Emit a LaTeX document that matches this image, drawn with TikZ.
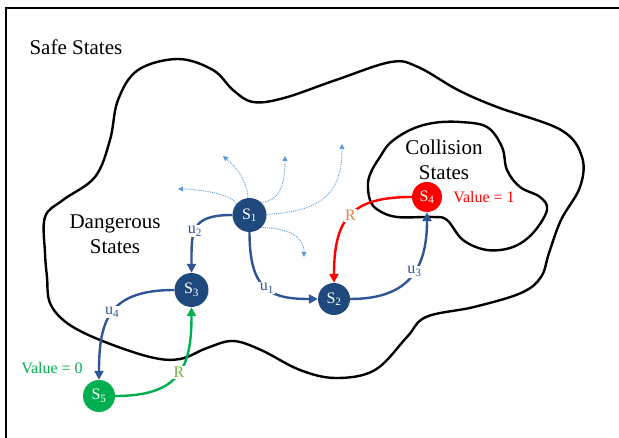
\documentclass[tikz,border=0pt]{standalone}
\usepackage{fontspec}
\setmainfont{Liberation Serif}
\usetikzlibrary{arrows.meta}
\definecolor{navy}{RGB}{31,73,125}
\definecolor{eblue}{RGB}{47,85,151}
\definecolor{lblue}{RGB}{91,155,213}
\definecolor{cred}{RGB}{255,0,0}
\definecolor{cgreen}{RGB}{0,176,80}
\definecolor{rorange}{RGB}{226,132,70}
\definecolor{rgreen}{RGB}{112,173,71}
\begin{document}
\begin{tikzpicture}[x=1pt,y=1pt,
  state/.style={circle,inner sep=0pt,text=white,font=\fontsize{16}{19}\selectfont},
  blob/.style={line width=2.4pt,black},
  edge/.style={line width=2.4pt,-{Triangle[width=9pt,length=9pt]}},
  elabel/.style={fill=white,inner sep=1pt,font=\fontsize{16}{19}\selectfont},
  hint/.style={lblue,line width=0.9pt,densely dotted,-{Triangle[width=5pt,length=5pt]}},
  bigtext/.style={font=\fontsize{21}{25}\selectfont,align=center}]
\useasboundingbox (0,0) rectangle (619,437);
\fill[white] (0,0) rectangle (619,437);
\draw[line width=2pt] (6,-5) -- (6,428.5) -- (625,428.5);

% outer blob (dangerous states)
\draw[blob] plot[smooth cycle,tension=0.6] coordinates {
 (45,220) (63,237) (95,260) (110,297) (118,337) (138,367) (178,378) (213,367)
 (233,347) (253,335) (284,339) (336,357) (391,375) (418,370) (458,347) (497,330)
 (561,307) (582,280) (580,250) (561,217) (549,184) (541,160) (521,144) (474,130)
 (426,120) (407,100) (375,67) (336,59) (300,67) (261,87) (233,96) (207,89)
 (180,78) (150,80) (100,97) (67,114) (50,134) (47,160) (45,184)};

% collision blob
\draw[blob] plot[smooth cycle,tension=0.6] coordinates {
 (368,254) (370,237) (378,227) (397,220) (433,220) (447,217) (463,197) (487,187)
 (513,190) (533,204) (547,227) (540,240) (520,250) (507,267) (502,290) (487,310)
 (460,315) (433,314) (410,307) (390,294) (380,280) (372,267)};

\node[anchor=west,font=\fontsize{21}{25}\selectfont] (safe) at (26,390) {Safe States};
\node[bigtext] (dang) at (115,202.5) {Dangerous\\States};
\node[bigtext] (coll) at (444,277.5) {Collision\\States};

\node[state,fill=navy,minimum size=34pt] (S1) at (249.5,222) {S\textsubscript{1}};
\node[state,fill=navy,minimum size=32pt] (S2) at (334,138) {S\textsubscript{2}};
\node[state,fill=navy,minimum size=34pt] (S3) at (191.5,147) {S\textsubscript{3}};
\node[state,fill=cred,minimum size=30pt] (S4) at (427,240) {S\textsubscript{4}};
\node[state,fill=cgreen,minimum size=32pt] (S5) at (99,41) {S\textsubscript{5}};

\node[text=cred,font=\fontsize{16}{19}\selectfont] (v1) at (484,240) {Value = 1};
\node[text=cgreen,font=\fontsize{16}{19}\selectfont] (v0) at (52,69) {Value = 0};

% dotted possible transitions
\coordinate (d1) at (178,248);
\coordinate (d2) at (223,281);
\coordinate (d3) at (285,281);
\coordinate (d4) at (342,293);
\coordinate (d5) at (304,180);
\draw[hint] (S1.140) .. controls +(-4,10) and +(20,0) .. (d1);
\draw[hint] (S1.95) .. controls +(-1,18) and +(12,-10) .. (d2);
\draw[hint] (S1.48) .. controls +(18,1) and +(0,-30) .. (d3);
\draw[hint] (S1.2) .. controls +(60,3) and +(0,-45) .. (d4);
\draw[hint] (S1.-46) .. controls +(28,-1) and +(0,20) .. (d5);

% transitions
\draw[edge,eblue] (S1.west) .. controls +(-42,0) and +(0,42) .. (S3.north)
  node[elabel,text=eblue,pos=0.55] (u2) {u\textsubscript{2}};
\draw[edge,eblue] (S1.south) .. controls +(0,-58) and +(-48,0) .. (S2.west)
  node[elabel,text=eblue,pos=0.52] (u1) {u\textsubscript{1}};
\draw[edge,eblue] (S2.east) .. controls +(60,0) and +(0,-55) .. (S4.south)
  node[elabel,text=eblue,pos=0.55] (u3) {u\textsubscript{3}};
\draw[edge,cred] (S4.west) .. controls +(-60,0) and +(0,65) .. (S2.north)
  node[elabel,text=rorange,pos=0.5] (r1) {R};
\draw[edge,eblue] (S3.west) .. controls +(-65,0) and +(0,60) .. (S5.north)
  node[elabel,text=eblue,pos=0.5] (u4) {u\textsubscript{4}};
\draw[edge,cgreen] (S5.east) .. controls +(65,0) and +(0,-60) .. (S3.south)
  node[elabel,text=rgreen,pos=0.52] (r2) {R};
\end{tikzpicture}
\end{document}
